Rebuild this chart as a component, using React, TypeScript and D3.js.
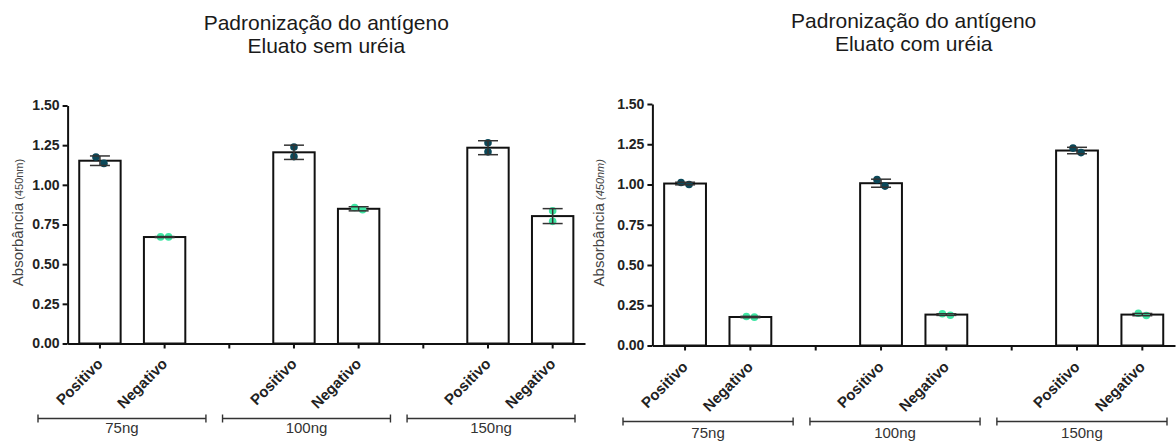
import React, { useEffect, useRef } from 'react';
import * as d3 from 'd3';

const groups = ['75ng', '100ng', '150ng'];
const samples = ['Positivo', 'Negativo'];
const yTicks = [0, 0.25, 0.5, 0.75, 1.0, 1.25, 1.5];

// eluato sem ureia
const semPosMeans = [1.152, 1.205, 1.234];
const semPosErr = [0.03, 0.045, 0.044];
const semPosPoints = [[1.175, 1.135], [1.238, 1.178], [1.265, 1.208]];
const semNegMeans = [0.671, 0.849, 0.803];
const semNegErr = [0.003, 0.013, 0.047];
const semNegPoints = [[0.672, 0.672], [0.857, 0.843], [0.836, 0.77]];

// eluato com ureia
const comPosMeans = [1.006, 1.008, 1.211];
const comPosErr = [0.008, 0.025, 0.02];
const comPosPoints = [[1.012, 1.0], [1.03, 0.99], [1.226, 1.198]];
const comNegMeans = [0.177, 0.192, 0.192];
const comNegErr = [0.004, 0.005, 0.007];
const comNegPoints = [[0.18, 0.176], [0.197, 0.188], [0.2, 0.186]];

const FONT = '"Liberation Sans", Arial, sans-serif';
const dotColor = { Positivo: '#0b4859', Negativo: '#3fe6a4' };

type Row = { group: string; sample: string; mean: number; err: number; points: number[] };

const buildRows = (pm, pe, pp, nm, ne, np): Row[] => {
    const rows: Row[] = [];
    groups.forEach((g, i) => {
        rows.push({ group: g, sample: samples[0], mean: pm[i], err: pe[i], points: pp[i] });
        rows.push({ group: g, sample: samples[1], mean: nm[i], err: ne[i], points: np[i] });
    });
    return rows;
};

const panels = [
    {
        title: ['Padronização do antígeno', 'Eluato sem uréia'],
        rows: buildRows(semPosMeans, semPosErr, semPosPoints, semNegMeans, semNegErr, semNegPoints),
        x0: 67.6, x1: 585, y0: 343.5, y1: 105.5,
        titleY: 30, labelX: 17, subItalic: false,
        tickLabelY: 361, bracketX: [38, 575], bracketY: 418.5, groupLabelY: 433,
    },
    {
        title: ['Padronização do antígeno', 'Eluato com uréia'],
        rows: buildRows(comPosMeans, comPosErr, comPosPoints, comNegMeans, comNegErr, comNegPoints),
        x0: 652.4, x1: 1175, y0: 345.5, y1: 104,
        titleY: 28, labelX: 598, subItalic: true,
        tickLabelY: 364, bracketX: [623, 1167], bracketY: 421.5, groupLabelY: 437.5,
    },
];

const drawPanel = (svg, p) => {
    const slots: string[] = [];
    groups.forEach((g, i) => {
        samples.forEach(s => slots.push(`${g}|${s}`));
        if (i < groups.length - 1) slots.push(`${g}|gap`);
    });

    const x = d3.scaleBand().domain(slots).range([p.x0, p.x1]).paddingInner(0.36).paddingOuter(0.18);
    const y = d3.scaleLinear().domain([0, 1.5]).range([p.y0, p.y1]);
    const cx = (r: Row) => x(`${r.group}|${r.sample}`) + x.bandwidth() / 2;

    const g = svg.append('g');

    //title
    const title = g.append('text')
        .attr('x', (p.x0 + p.x1) / 2)
        .attr('y', p.titleY)
        .attr('text-anchor', 'middle')
        .style('font-family', FONT)
        .style('font-size', '21px')
        .attr('fill', '#1a1a1a');
    p.title.forEach((t, i) => {
        title.append('tspan').attr('x', (p.x0 + p.x1) / 2).attr('dy', i === 0 ? 0 : 23).text(t);
    });

    //bars
    g.selectAll('rect.bar')
        .data(p.rows)
        .enter()
        .append('rect')
        .attr('x', d => x(`${d.group}|${d.sample}`))
        .attr('width', x.bandwidth())
        .attr('y', d => y(d.mean))
        .attr('height', d => y(0) - y(d.mean))
        .attr('fill', 'white')
        .attr('stroke', '#111')
        .attr('stroke-width', 2);

    //points
    p.rows.forEach(r => {
        const spread = Math.abs(y(r.points[0]) - y(r.points[1])) < 8;
        r.points.forEach((v, j) => {
            g.append('circle')
                .attr('cx', cx(r) + (spread ? (j === 0 ? -4 : 4) : 0))
                .attr('cy', y(v))
                .attr('r', 3.8)
                .attr('fill', dotColor[r.sample]);
        });
    });

    //error bars
    p.rows.forEach(r => {
        const c = cx(r);
        const top = y(r.mean + r.err);
        const bot = y(r.mean - r.err);
        g.append('line').attr('x1', c).attr('x2', c).attr('y1', top).attr('y2', bot)
            .attr('stroke', '#333').attr('stroke-width', 1.5);
        [top, bot].forEach(yy => {
            g.append('line').attr('x1', c - 10).attr('x2', c + 10).attr('y1', yy).attr('y2', yy)
                .attr('stroke', '#333').attr('stroke-width', 1.5);
        });
    });

    //y axis
    const yAxis = g.append('g')
        .attr('transform', `translate(${p.x0},0)`)
        .call(d3.axisLeft(y).tickValues(yTicks).tickFormat(d3.format('.2f')).tickSize(5).tickSizeOuter(0).tickPadding(3));
    yAxis.select('.domain').attr('stroke', '#111').attr('stroke-width', 2);
    yAxis.selectAll('.tick line').attr('stroke', '#111').attr('stroke-width', 2);
    yAxis.selectAll('.tick text')
        .style('font-family', FONT).style('font-size', '14px').style('font-weight', 'bold').attr('fill', '#222');

    //x axis
    const xAxis = g.append('g')
        .attr('transform', `translate(0,${p.y0})`)
        .call(d3.axisBottom(x).tickSize(5).tickSizeOuter(0).tickFormat(() => ''));
    xAxis.select('.domain').attr('stroke', '#111').attr('stroke-width', 2);
    xAxis.selectAll('.tick line').attr('stroke', '#111').attr('stroke-width', 2);

    //rotated sample labels
    g.selectAll('text.sample')
        .data(p.rows)
        .enter()
        .append('text')
        .attr('transform', d => `translate(${cx(d)},${p.tickLabelY}) rotate(-45)`)
        .attr('text-anchor', 'end')
        .attr('dy', '0.35em')
        .style('font-family', FONT)
        .style('font-size', '15px')
        .style('font-weight', 'bold')
        .attr('fill', '#222')
        .text(d => d.sample);

    //group brackets
    const gx = d3.scaleBand().domain(groups).range(p.bracketX).paddingInner(0.09);
    groups.forEach(gr => {
        const a = gx(gr);
        const b = a + gx.bandwidth();
        g.append('line').attr('x1', a).attr('x2', b).attr('y1', p.bracketY).attr('y2', p.bracketY)
            .attr('stroke', '#333').attr('stroke-width', 1.4);
        [a, b].forEach(xx => {
            g.append('line').attr('x1', xx).attr('x2', xx).attr('y1', p.bracketY - 4).attr('y2', p.bracketY + 4)
                .attr('stroke', '#333').attr('stroke-width', 1.4);
        });
        g.append('text')
            .attr('x', (a + b) / 2)
            .attr('y', p.groupLabelY)
            .attr('text-anchor', 'middle')
            .style('font-family', FONT)
            .style('font-size', '15px')
            .attr('fill', '#333')
            .text(gr);
    });

    //y axis label
    const yl = g.append('text')
        .attr('transform', `translate(${p.labelX},${(p.y0 + p.y1) / 2 - 2}) rotate(-90)`)
        .attr('text-anchor', 'middle')
        .attr('dy', '0.35em')
        .style('font-family', FONT)
        .attr('fill', '#444');
    yl.append('tspan').style('font-size', '15px').text('Absorbância');
    yl.append('tspan').style('font-size', '11px').style('font-style', p.subItalic ? 'italic' : 'normal').text(' (450nm)');
};

export default function App() {
    const ref = useRef<SVGSVGElement>(null);

    useEffect(() => {
        const svg = d3.select(ref.current);
        svg.selectAll('*').remove();
        panels.forEach(p => drawPanel(svg, p));
    }, []);

    return (
        <svg
            ref={ref}
            width={1176}
            height={442}
            style={{ position: 'fixed', left: 0, top: 0, background: 'white' }}
        />
    );
}
